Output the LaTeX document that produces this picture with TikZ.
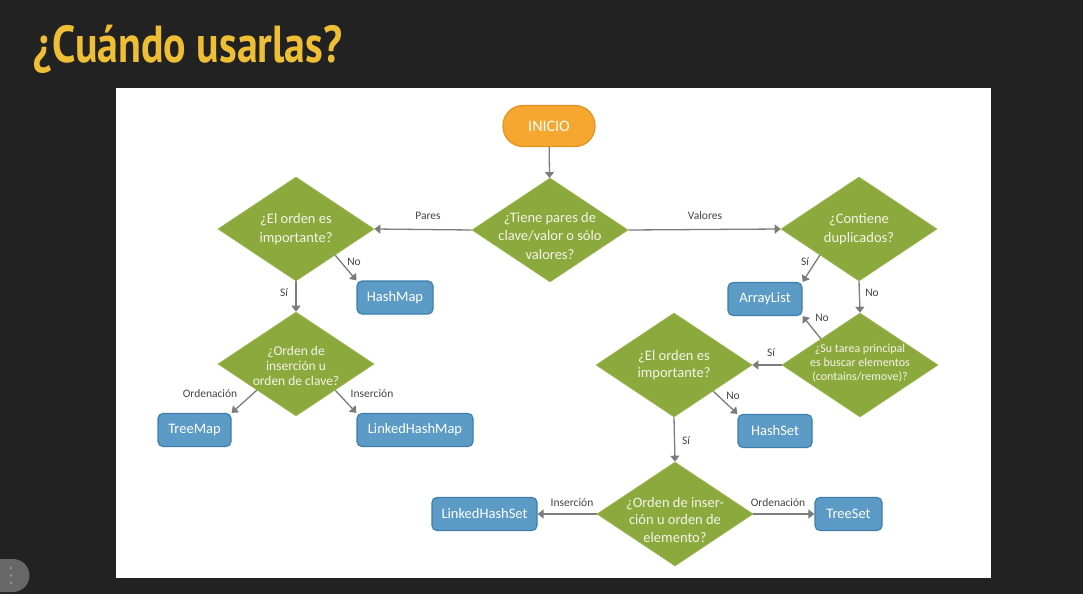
\documentclass[tikz,border=0pt]{standalone}
\usepackage{fontspec}
\setmainfont{Carlito}
\newfontfamily\titlefont{PT Sans}
\usetikzlibrary{shapes.geometric,arrows.meta,calc}

\definecolor{slidebg}{HTML}{222222}
\definecolor{titleyellow}{HTML}{EEBE35}
\definecolor{dgreen}{HTML}{8CA93E}
\definecolor{dgreenline}{HTML}{9AB54C}
\definecolor{bfill}{HTML}{5B9BC6}
\definecolor{bline}{HTML}{3D7EAC}
\definecolor{ofill}{HTML}{F6A730}
\definecolor{oline}{HTML}{E4911F}
\definecolor{conn}{HTML}{7C7C7C}
\definecolor{lbltext}{HTML}{444444}
\definecolor{dtextcol}{HTML}{F2F5E8}
\definecolor{btngray}{HTML}{676767}

\tikzset{
  decision/.style={diamond, aspect=1.5, fill=dgreen, draw=dgreenline, line width=0.6pt,
    minimum width=156pt, minimum height=104pt, inner sep=0pt},
  dtext/.style={text=dtextcol, align=center, inner sep=0pt,
    font=\fontsize{14.5}{18.5}\selectfont},
  dsmall/.style={text=dtextcol, align=center, inner sep=0pt,
    font=\fontsize{12}{14}\selectfont},
  result/.style={rectangle, rounded corners=5pt, fill=bfill, draw=bline, line width=1.2pt,
    text=white, minimum height=33pt, inner sep=0pt, font=\fontsize{14.5}{17}\selectfont},
  startnode/.style={rectangle, rounded corners=20pt, fill=ofill, draw=oline, line width=1.2pt,
    text=white, minimum width=92pt, minimum height=41pt, inner sep=0pt,
    font=\fontsize{16}{18}\selectfont},
  flow/.style={draw=conn, line width=1.3pt, -{Triangle[width=9pt,length=6pt]}},
  lbl/.style={text=lbltext, inner sep=0pt, font=\fontsize{11.5}{13}\selectfont}
}

\begin{document}
\begin{tikzpicture}[x=1pt,y=-1pt]
\useasboundingbox (0,0) rectangle (1083,594);
% slide background and white drawing area
\fill[slidebg] (0,0) rectangle (1083,594);
\fill[white] (116,88) rectangle (991,578);

% slide title
\node (title) [anchor=base west, inner sep=0pt, text=titleyellow] at (33,63)
  {\resizebox{309pt}{\height}{\titlefont\bfseries\fontsize{52}{52}\selectfont ¿Cuándo usarlas?}};

% small menu button in the lower left corner
\fill[btngray] (0,559) -- (13,559) arc[start angle=-90,end angle=90,radius=16.5] -- (0,592) -- cycle;
\foreach \yy in {568,575.5,583} \fill[btngray!70!white] (11,\yy) circle (1.3pt);

% start
\node (start) [startnode] at (549,126) {INICIO};

% decisions
\node (d1) [decision, label={[dtext, yshift=-6pt]center:{¿Tiene pares de\\clave/valor o sólo\\valores?}}] at (550,230) {};
\node (d2) [decision, label={[dtext]center:{¿El orden es\\importante?}}] at (296,229) {};
\node (d3) [decision, label={[dtext, font=\fontsize{13.5}{15}\selectfont, yshift=-2pt]center:{¿Orden de\\inserción u\\orden de clave?}}] at (296,364) {};
\node (d4) [decision, label={[dtext]center:{¿Contiene\\duplicados?}}] at (859,229) {};
\node (d5) [decision, label={[dsmall, yshift=2pt]center:{¿Su tarea principal\\es buscar elementos\\(contains/remove)?}}] at (860,365) {};
\node (d6) [decision, label={[dtext, font=\fontsize{14.5}{17}\selectfont]center:{¿El orden es\\importante?}}] at (674,365) {};
\node (d7) [decision, label={[dtext, font=\fontsize{14.5}{17.5}\selectfont, yshift=-6pt]center:{¿Orden de inser-\\ción u orden de\\elemento?}}] at (675,514) {};

% results
\node (hashmap) [result, minimum width=76pt] at (395,297.5) {HashMap};
\node (treemap) [result, minimum width=73pt] at (194.5,430) {TreeMap};
\node (lhmap) [result, minimum width=116pt] at (415,430) {LinkedHashMap};
\node (arraylist) [result, minimum width=74pt] at (765,299) {ArrayList};
\node (hashset) [result, minimum width=74pt] at (775,431) {HashSet};
\node (lhset) [result, minimum width=105pt] at (484.5,514) {LinkedHashSet};
\node (treeset) [result, minimum width=67pt] at (848.5,514) {TreeSet};

% connectors
\draw[flow] (start) -- (d1);
\draw[flow] (d1.west) -- (d2.east);
\draw[flow] (d1.east) -- (d4.west);
\draw[flow] (d2.south) -- (d3.north);
\draw[flow] ($(d2.east)!.5!(d2.south)$) -- (hashmap.north west);
\draw[flow] ($(d3.west)!.5!(d3.south)$) -- (treemap.north east);
\draw[flow] ($(d3.east)!.5!(d3.south)$) -- (lhmap.north west);
\draw[flow] ($(d4.west)!.5!(d4.south)$) -- (arraylist.north east);
\draw[flow] (d4.south) -- (d5.north);
\draw[flow] ($(d5.west)!.5!(d5.north)$) -- (arraylist.south east);
\draw[flow] (d5.west) -- (d6.east);
\draw[flow] ($(d6.east)!.5!(d6.south)$) -- (hashset.north west);
\draw[flow] (d6.south) -- (d7.north);
\draw[flow] (d7.west) -- (lhset.east);
\draw[flow] (d7.east) -- (treeset.west);

% connector labels
\node (lpares) [lbl] at (428,216) {Pares};
\node (lvalores) [lbl] at (705,216) {Valores};
\node (lno1) [lbl] at (354,262) {No};
\node (lsi1) [lbl] at (284,293) {Sí};
\node (lord1) [lbl] at (210,394) {Ordenación};
\node (lins1) [lbl] at (372,394) {Inserción};
\node (lsi2) [lbl] at (805,262) {Sí};
\node (lno2) [lbl] at (872,293) {No};
\node (lno3) [lbl] at (822,318) {No};
\node (lsi3) [lbl] at (771,353) {Sí};
\node (lno4) [lbl] at (733,396) {No};
\node (lsi4) [lbl] at (686,441) {Sí};
\node (lins2) [lbl] at (572,503) {Inserción};
\node (lord2) [lbl] at (778,503) {Ordenación};
\end{tikzpicture}
\end{document}
